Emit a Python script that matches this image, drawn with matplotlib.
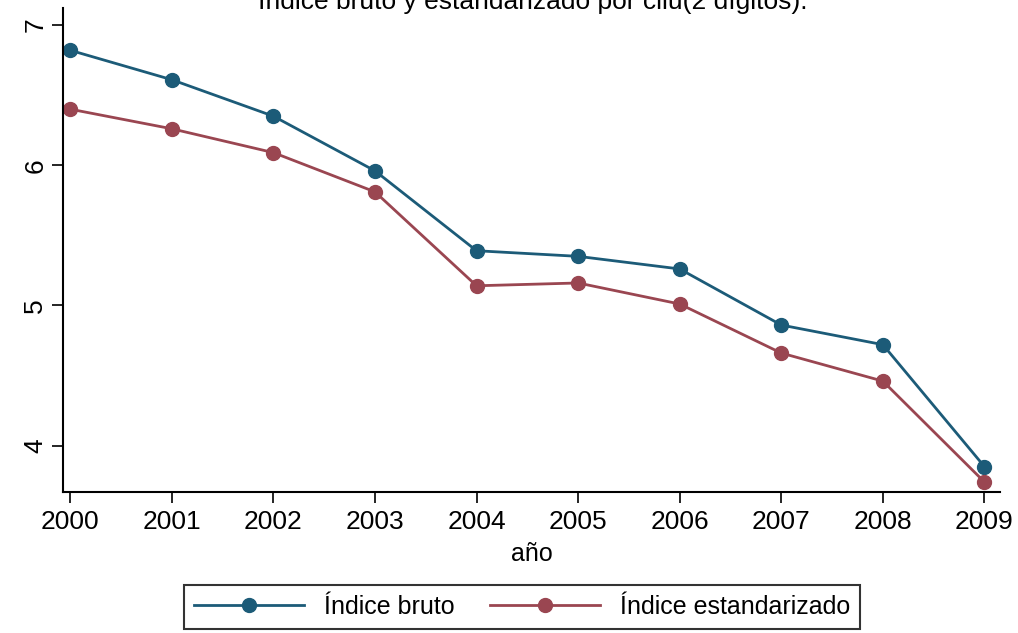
import matplotlib
matplotlib.use("Agg")
import matplotlib.pyplot as plt

plt.rcParams['font.family'] = ['Liberation Sans', 'DejaVu Sans']

years = [2000, 2001, 2002, 2003, 2004, 2005, 2006, 2007, 2008, 2009]
indice_bruto = [6.82, 6.61, 6.35, 5.96, 5.39, 5.35, 5.26, 4.86, 4.72, 3.85]
indice_estandarizado = [6.40, 6.26, 6.09, 5.81, 5.14, 5.16, 5.01, 4.66, 4.46, 3.74]
y_ticks = [4, 5, 6, 7]

blue = '#1c5b78'
maroon = '#9a4651'

fig = plt.figure(figsize=(10.18, 6.33), dpi=100)
ax = fig.add_axes([0.062, 0.223, 0.92, 0.764])

ax.plot(years, indice_bruto, color=blue, lw=2, marker='o', ms=10, label='Índice bruto')
ax.plot(years, indice_estandarizado, color=maroon, lw=2, marker='o', ms=10, label='Índice estandarizado')

ax.set_xlim(1999.93, 2009.15)
ax.set_ylim(3.67, 7.12)
ax.set_xticks(years)
ax.set_yticks(y_ticks)
ax.set_yticklabels([str(t) for t in y_ticks], rotation=90, va='center')
ax.tick_params(axis='both', labelsize=19, length=8, width=1.2, direction='out')
ax.tick_params(axis='x', pad=5)
for side in ['top', 'right']:
    ax.spines[side].set_visible(False)
for side in ['left', 'bottom']:
    ax.spines[side].set_linewidth(1.5)
ax.set_xlabel('año', fontsize=18, labelpad=6)

# title is cut off at the top of the reference image
fig.text(0.523, 1 - 9 / 633, 'Índice bruto y estandarizado por ciiu(2 dígitos).',
         ha='center', va='baseline', fontsize=19)

leg = fig.legend(loc='center', bbox_to_anchor=(0.513, 1 - 607 / 633), ncol=2,
                 fontsize=18, handlelength=4.4, columnspacing=1.4, handletextpad=0.8,
                 fancybox=False, edgecolor='black', borderpad=0.4)
leg.get_frame().set_linewidth(1.5)

fig.savefig('out.png', dpi=100)
